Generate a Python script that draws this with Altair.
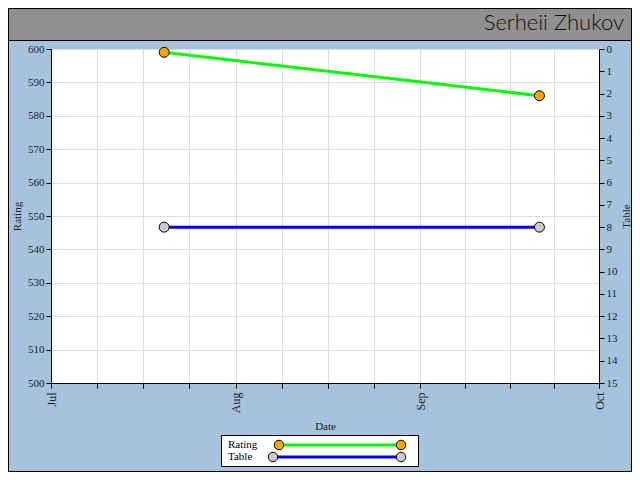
import altair as alt
import pandas as pd
from datetime import datetime, timezone

# ---- data ----
dates = ["2023-07-20", "2023-09-21"]
rating = [599, 586]
table = [8, 8]
series = ["Rating", "Table"]
title_text = "Serheii Zhukov"
month_starts = ["2023-07-01", "2023-08-01", "2023-09-01", "2023-10-01"]

df = pd.DataFrame({"date": dates, "rating": rating, "table": table})
one = pd.DataFrame({"a": [0]})

def ms(s):
    return datetime.strptime(s, "%Y-%m-%d").replace(tzinfo=timezone.utc)

# tick values: each month split into four equal parts
tick_vals = []
for i in range(len(month_starts) - 1):
    a, b = ms(month_starts[i]), ms(month_starts[i + 1])
    for k in range(4):
        t = a + (b - a) * k / 4
        tick_vals.append(int(t.timestamp() * 1000))
tick_vals.append(int(ms(month_starts[-1]).timestamp() * 1000))

FONT = "Liberation Serif"
BG = "#a6c2dc"
W, H = 548, 334
PL, PT, PR, PB = 43, 41, 33, 89
TW, TH = W + PL + PR, H + PT + PB  # 624 x 464

x_enc = alt.X(
    "date:T",
    title="Date",
    scale=alt.Scale(type="utc", domain=[int(ms(month_starts[0]).timestamp() * 1000),
                                        int(ms(month_starts[-1]).timestamp() * 1000)]),
    axis=alt.Axis(
        values=tick_vals,
        labelExpr="utcdate(datum.value)==1 && utchours(datum.value)==0 ? utcFormat(datum.value, '%b') : ''",
        labelAngle=-90,
        labelFontSize=12,
        grid=True,
        gridColor="#dddddd",
        tickSize=5,
        labelPadding=4,
        titlePadding=8,
    ),
)

y_rating = alt.Y(
    "rating:Q",
    title="Rating",
    scale=alt.Scale(domain=[500, 600], nice=False, zero=False),
    axis=alt.Axis(orient="left", values=list(range(500, 601, 10)), grid=True,
                  gridColor="#dddddd", tickSize=5, labelPadding=2, titlePadding=5),
)
y_table = alt.Y(
    "table:Q",
    title="Table",
    scale=alt.Scale(domain=[0, 15], reverse=True, nice=False),
    axis=alt.Axis(orient="right", values=list(range(0, 16)), grid=False,
                  tickSize=5, labelPadding=2, titleAngle=270, titleX=27,
                  titleY=H / 2, titleBaseline="middle", titleAlign="center"),
)

base = alt.Chart(df)
rating_layer = alt.layer(
    base.mark_line(color="#00ff00", strokeWidth=3).encode(x=x_enc, y=y_rating),
    base.mark_point(shape="circle", filled=True, fill="#ffa500", stroke="black",
                    strokeWidth=1, size=100, opacity=1).encode(x=x_enc, y=y_rating),
)
table_layer = alt.layer(
    base.mark_line(color="#0000ff", strokeWidth=3).encode(x=x_enc, y=y_table),
    base.mark_point(shape="circle", filled=True, fill="#cccccc", stroke="black",
                    strokeWidth=1, size=100, opacity=1).encode(x=x_enc, y=y_table),
)

d = alt.Chart(one)
# title bar
title_bar = d.mark_rect(fill="#909090").encode(
    x=alt.value(-PL), x2=alt.value(W + PR), y=alt.value(-PT), y2=alt.value(-9))
title_line = d.mark_rule(color="black", strokeWidth=1).encode(
    x=alt.value(-PL), x2=alt.value(W + PR), y=alt.value(-8.5))
border = d.mark_rect(fill="transparent", stroke="black", strokeWidth=1).encode(
    x=alt.value(-PL + 0.5), x2=alt.value(W + PR - 0.5),
    y=alt.value(-PT + 0.5), y2=alt.value(H + PB - 0.5))
title_mark = d.mark_text(text=title_text, font="Lato", fontWeight=300, fontSize=22,
                         align="right", baseline="middle", color="#111111").encode(
    x=alt.value(W + PR - 8), y=alt.value(-26))

# legend
leg_box = d.mark_rect(fill="white", stroke="black", strokeWidth=1).encode(
    x=alt.value(170.5), x2=alt.value(367.5), y=alt.value(386.5), y2=alt.value(417.5))
leg_layers = [leg_box]
leg_rows = [
    (series[0], 396, 228, "#00ff00", "#ffa500"),
    (series[1], 408, 222, "#0000ff", "#cccccc"),
]
for name, yy, x0, lc, pc in leg_rows:
    leg_layers.append(d.mark_text(text=name, font=FONT, fontSize=11, align="left",
                                  baseline="middle", color="black").encode(
        x=alt.value(177), y=alt.value(yy)))
    leg_layers.append(d.mark_rule(color=lc, strokeWidth=3).encode(
        x=alt.value(x0), x2=alt.value(350), y=alt.value(yy)))
    for xx in (x0, 350):
        leg_layers.append(d.mark_point(shape="circle", filled=True, fill=pc, stroke="black",
                                       strokeWidth=1, size=90, opacity=1).encode(
            x=alt.value(xx), y=alt.value(yy)))

chart = alt.layer(
    title_bar, title_line, rating_layer, table_layer, *leg_layers, title_mark, border
).resolve_scale(y="independent").properties(
    width=W, height=H,
    autosize=alt.AutoSizeParams(type="none"),
    padding={"left": PL, "top": PT, "right": PR, "bottom": PB},
    background=BG,
).configure_view(fill="white", stroke=None).configure_axis(
    domainColor="black", tickColor="black", labelColor="#222222",
    labelFont=FONT, labelFontSize=11, titleFont=FONT, titleFontSize=11,
    titleFontWeight="normal", titleColor="#222222",
)

chart.save("out.html", embed_options={"renderer": "svg", "actions": False})
